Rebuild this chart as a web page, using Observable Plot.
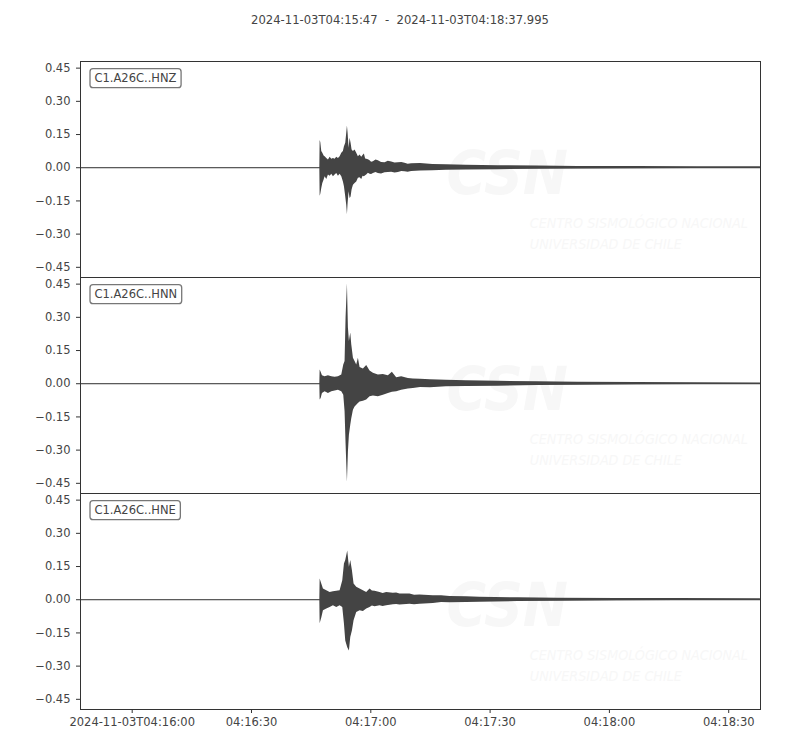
<!DOCTYPE html>
<html>
<head>
<meta charset="utf-8">
<script src="https://cdn.jsdelivr.net/npm/d3@7"></script>
<script src="https://cdn.jsdelivr.net/npm/@observablehq/plot@0.6"></script>
<style>
body { margin: 0; background: #fff; }
#chart { position: relative; width: 800px; height: 750px; font-family: "DejaVu Sans", sans-serif; }
#title { position: absolute; top: 13px; left: 0; width: 800px; text-align: center; font-size: 11.6px; color: #444; white-space: pre; }
</style>
</head>
<body>
<div id="chart"><div id="title"></div></div>
<script>
// record window
const startTime = new Date(Date.UTC(2024, 10, 3, 4, 15, 47));
const endTime = new Date(Date.UTC(2024, 10, 3, 4, 18, 37, 995));
const titleText = "2024-11-03T04:15:47  -  2024-11-03T04:18:37.995";

const channels = ["C1.A26C..HNZ", "C1.A26C..HNN", "C1.A26C..HNE"];

// tick labels
const yTicks = [-0.45, -0.30, -0.15, 0, 0.15, 0.30, 0.45];
const xTickTimes = ["2024-11-03T04:16:00Z", "2024-11-03T04:16:30Z", "2024-11-03T04:17:00Z", "2024-11-03T04:17:30Z", "2024-11-03T04:18:00Z", "2024-11-03T04:18:30Z"];
const xTickLabels = ["2024-11-03T04:16:00", "04:16:30", "04:17:00", "04:17:30", "04:18:00", "04:18:30"];

// envelopes: seconds after start, upper and lower amplitude
const hnzTime = [0, 60.18, 60.26, 60.42, 60.67, 60.93, 61.26, 61.51, 61.93, 62.35, 62.77, 63.19, 63.60, 64.02, 64.44, 64.86, 65.28, 65.70, 66.11, 66.37, 66.70, 66.95, 67.12, 67.29, 67.54, 67.79, 68.04, 68.29, 68.63, 69.04, 69.46, 69.88, 70.30, 70.72, 71.05, 71.39, 71.70, 71.97, 72.40, 72.81, 73.20, 73.65, 74.30, 74.90, 75.70, 76.58, 77.40, 78.25, 79.10, 79.92, 80.80, 81.60, 82.40, 83.27, 85.5, 88.6, 92, 97, 105, 115, 125, 140, 155, 170.99];
const hnzMax = [0.0015, 0.0015, 0.123, 0.114, 0.073, 0.065, 0.053, 0.050, 0.042, 0.035, 0.047, 0.038, 0.042, 0.038, 0.047, 0.042, 0.050, 0.065, 0.073, 0.095, 0.111, 0.156, 0.189, 0.156, 0.088, 0.133, 0.111, 0.080, 0.073, 0.080, 0.065, 0.050, 0.058, 0.047, 0.055, 0.062, 0.040, 0.038, 0.036, 0.032, 0.025, 0.027, 0.035, 0.032, 0.024, 0.023, 0.029, 0.026, 0.021, 0.023, 0.024, 0.020, 0.016, 0.018, 0.019, 0.015, 0.014, 0.011, 0.009, 0.008, 0.006, 0.005, 0.004, 0.004];
const hnzMin = [-0.0015, -0.0015, -0.129, -0.120, -0.094, -0.071, -0.056, -0.041, -0.053, -0.033, -0.038, -0.029, -0.041, -0.033, -0.026, -0.038, -0.029, -0.041, -0.064, -0.086, -0.132, -0.170, -0.212, -0.162, -0.109, -0.139, -0.132, -0.101, -0.079, -0.071, -0.064, -0.048, -0.045, -0.053, -0.038, -0.041, -0.036, -0.033, -0.025, -0.029, -0.031, -0.026, -0.022, -0.026, -0.028, -0.023, -0.021, -0.020, -0.024, -0.021, -0.017, -0.018, -0.020, -0.017, -0.015, -0.014, -0.011, -0.010, -0.009, -0.007, -0.006, -0.005, -0.004, -0.003];

const hnnTime = [0, 60.18, 60.26, 60.51, 60.84, 61.51, 62.35, 63.19, 64.02, 64.86, 65.70, 66.20, 66.53, 66.78, 67.12, 67.37, 67.62, 67.96, 68.21, 68.63, 69.04, 69.46, 69.88, 70.30, 71.14, 71.97, 72.81, 73.65, 74.90, 76.16, 77.42, 78.42, 79.51, 80.76, 82.44, 83.69, 85.5, 88, 92, 97, 105, 115, 125, 140, 155, 170.99];
const hnnMax = [0.0015, 0.0015, 0.062, 0.052, 0.036, 0.032, 0.036, 0.032, 0.029, 0.032, 0.039, 0.085, 0.100, 0.297, 0.452, 0.252, 0.191, 0.229, 0.176, 0.115, 0.100, 0.085, 0.115, 0.073, 0.067, 0.082, 0.058, 0.047, 0.039, 0.042, 0.036, 0.052, 0.027, 0.032, 0.024, 0.021, 0.020, 0.018, 0.016, 0.014, 0.011, 0.009, 0.007, 0.006, 0.004, 0.003];
const hnnMin = [-0.0015, -0.0015, -0.074, -0.067, -0.044, -0.036, -0.044, -0.036, -0.033, -0.029, -0.036, -0.052, -0.127, -0.271, -0.445, -0.309, -0.233, -0.188, -0.158, -0.120, -0.105, -0.097, -0.089, -0.082, -0.079, -0.074, -0.059, -0.055, -0.059, -0.052, -0.044, -0.039, -0.036, -0.029, -0.024, -0.021, -0.017, -0.018, -0.014, -0.013, -0.011, -0.008, -0.007, -0.005, -0.004, -0.003];

const hneTime = [0, 60.18, 60.26, 60.67, 61.09, 61.93, 62.77, 63.60, 64.44, 65.28, 65.95, 66.37, 66.70, 67.20, 67.62, 67.96, 68.37, 68.79, 69.46, 70.30, 71.14, 71.97, 72.81, 73.40, 74.06, 75.32, 76.10, 76.99, 78.67, 79.50, 80.34, 82.85, 84.0, 85.36, 88.71, 90.8, 92.89, 97.08, 100.4, 110, 120, 135, 150, 170.99];
const hneMax = [0.0015, 0.0015, 0.094, 0.071, 0.048, 0.041, 0.033, 0.036, 0.038, 0.041, 0.086, 0.162, 0.177, 0.220, 0.147, 0.177, 0.132, 0.071, 0.056, 0.048, 0.041, 0.033, 0.048, 0.040, 0.038, 0.033, 0.028, 0.033, 0.029, 0.030, 0.026, 0.026, 0.020, 0.021, 0.018, 0.018, 0.015, 0.014, 0.011, 0.009, 0.007, 0.006, 0.005, 0.004];
const hneMin = [-0.0015, -0.0015, -0.108, -0.083, -0.050, -0.042, -0.035, -0.027, -0.035, -0.027, -0.035, -0.110, -0.186, -0.217, -0.232, -0.171, -0.141, -0.095, -0.058, -0.050, -0.053, -0.042, -0.035, -0.028, -0.032, -0.027, -0.031, -0.027, -0.023, -0.021, -0.024, -0.020, -0.023, -0.020, -0.017, -0.013, -0.014, -0.012, -0.011, -0.008, -0.007, -0.005, -0.004, -0.003];

const trace_color = "#444444";
const watermark_color = "#f7f7f7";

function toRows(channel, times, hi, lo) {
    return times.map((t, i) => ({channel, time: new Date(startTime.getTime() + t * 1000), hi: hi[i], lo: lo[i]}));
}
const rows = [
    ...toRows(channels[0], hnzTime, hnzMax, hnzMin),
    ...toRows(channels[1], hnnTime, hnnMax, hnnMin),
    ...toRows(channels[2], hneTime, hneMax, hneMin)
];

const tickDates = xTickTimes.map(d => new Date(d));
const tickLabelOf = new Map(tickDates.map((d, i) => [d.getTime(), xTickLabels[i]]));
const yFormat = d3.format(".2f");

// faint CSN watermark in each panel
const markAt = s => new Date(startTime.getTime() + s * 1000);
const wmFont = "DejaVu Sans Condensed, DejaVu Sans, sans-serif";

document.getElementById("title").textContent = titleText;

const chart = Plot.plot({
    width: 800,
    height: 750,
    marginTop: 60,
    marginBottom: 40,
    marginLeft: 80,
    marginRight: 40,
    style: {fontFamily: "DejaVu Sans, sans-serif", fontSize: "11.5px", color: "#444", background: "#fff"},
    x: {type: "utc", domain: [startTime, endTime]},
    y: {domain: [-0.496, 0.48]},
    fy: {domain: channels, padding: 0, axis: null},
    marks: [
        Plot.text(channels, {fy: d => d, x: markAt(107.3), y: -0.03, text: d => "CSN", fontSize: 60, fontWeight: "bold", fontStyle: "italic", fontFamily: wmFont, fill: watermark_color}),
        Plot.text(channels, {fy: d => d, x: markAt(113), y: -0.25, text: d => "CENTRO SISMOLÓGICO NACIONAL", textAnchor: "start", fontSize: 14.2, fontStyle: "italic", fontFamily: wmFont, fill: watermark_color}),
        Plot.text(channels, {fy: d => d, x: markAt(113), y: -0.345, text: d => "UNIVERSIDAD DE CHILE", textAnchor: "start", fontSize: 14.2, fontStyle: "italic", fontFamily: wmFont, fill: watermark_color}),
        Plot.ruleY([0], {stroke: trace_color, strokeWidth: 1.2}),
        Plot.areaY(rows, {x: "time", y1: "lo", y2: "hi", fy: "channel", fill: trace_color, curve: "linear"}),
        Plot.frame({stroke: "#333", strokeWidth: 1}),
        Plot.axisY({ticks: yTicks, tickFormat: yFormat, tickSize: 4, tickPadding: 6, label: null, stroke: "#333"}),
        Plot.axisX({ticks: tickDates, tickFormat: d => tickLabelOf.get(d.getTime()), tickSize: 4, tickPadding: 4, label: null, stroke: "#333"}),
        Plot.text(channels, {fy: d => d, text: d => d, frameAnchor: "top-left", dx: 14, dy: 17, textAnchor: "start", lineAnchor: "middle", fontSize: 11.5, fill: "#444"})
    ]
});

document.getElementById("chart").appendChild(chart);

// rounded boxes behind the channel labels
chart.querySelectorAll("text").forEach(t => {
    if (!channels.includes(t.textContent)) return;
    const b = t.getBBox();
    const r = document.createElementNS("http://www.w3.org/2000/svg", "rect");
    r.setAttribute("x", b.x - 4.5);
    r.setAttribute("y", b.y - 2.5);
    r.setAttribute("width", b.width + 9);
    r.setAttribute("height", b.height + 5);
    r.setAttribute("rx", 3);
    r.setAttribute("fill", "#fff");
    r.setAttribute("stroke", "#777");
    r.setAttribute("stroke-width", 1.3);
    if (t.getAttribute("transform")) r.setAttribute("transform", t.getAttribute("transform"));
    t.parentNode.insertBefore(r, t);
});
</script>
</body>
</html>
